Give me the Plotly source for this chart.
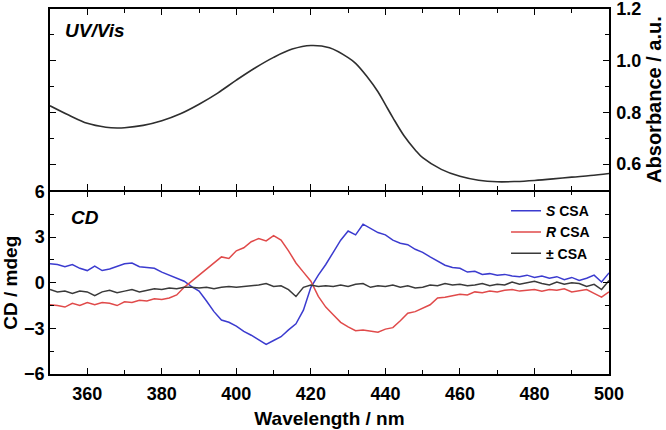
import plotly.graph_objects as go

# ---------------- data ----------------
uv_wl = [350, 355, 360, 365, 368, 370, 375, 380, 385, 390, 395, 400, 405, 410, 415,
         420, 425, 430, 432, 435, 438, 440, 442, 445, 448, 450, 455, 460, 465, 470,
         475, 480, 485, 490, 495, 500]
uv_abs = [0.826, 0.79, 0.758, 0.743, 0.740, 0.741, 0.750, 0.768, 0.795, 0.832, 0.875,
          0.925, 0.972, 1.013, 1.045, 1.059, 1.050, 1.012, 0.99, 0.94, 0.88, 0.83,
          0.78, 0.71, 0.655, 0.625, 0.580, 0.553, 0.538, 0.532, 0.533, 0.537, 0.543,
          0.550, 0.556, 0.564]

cd_wl = list(range(350, 501, 2))

cd_S = [1.25, 1.2, 1.05, 1.2, 0.95, 0.8, 1.1, 0.8, 0.9, 1.05, 1.25, 1.3, 1.05, 1.0,
        0.95, 0.7, 0.5, 0.3, 0.1, -0.25, -0.55, -1.2, -1.9, -2.45, -2.6, -2.85,
        -3.2, -3.45, -3.75, -4.05, -3.8, -3.55, -3.1, -2.7, -1.8, -0.3, 0.5, 1.2,
        2.0, 2.8, 3.4, 3.15, 3.85, 3.6, 3.3, 3.15, 2.8, 2.6, 2.5, 2.2, 2.0, 1.7,
        1.4, 1.15, 1.0, 0.95, 0.7, 0.75, 0.55, 0.6, 0.5, 0.55, 0.45, 0.4, 0.5,
        0.35, 0.45, 0.3, 0.4, 0.2, 0.35, 0.15, 0.3, 0.5, 0.05, 0.65]

cd_R = [-1.45, -1.5, -1.6, -1.35, -1.5, -1.3, -1.45, -1.3, -1.35, -1.5, -1.25,
        -1.3, -1.15, -1.2, -1.05, -1.1, -1.0, -0.8, -0.3, 0.1, 0.5, 0.9, 1.3, 1.7,
        1.6, 2.1, 2.3, 2.7, 2.9, 2.75, 3.1, 2.8, 2.1, 1.3, 0.7, 0.1, -0.9, -1.6,
        -2.1, -2.6, -2.9, -3.15, -3.1, -3.2, -3.25, -3.05, -2.95, -2.5, -2.0, -1.9,
        -1.7, -1.45, -1.0, -0.95, -0.85, -0.75, -0.8, -0.6, -0.65, -0.55, -0.6,
        -0.5, -0.45, -0.55, -0.5, -0.45, -0.55, -0.45, -0.5, -0.4, -0.6, -0.55,
        -0.45, -0.7, -0.95, -0.6]

cd_rac = [-0.45, -0.6, -0.55, -0.7, -0.55, -0.6, -0.85, -0.6, -0.5, -0.65, -0.55,
          -0.45, -0.6, -0.5, -0.4, -0.45, -0.35, -0.4, -0.3, -0.3, -0.35, -0.3,
          -0.4, -0.3, -0.25, -0.3, -0.25, -0.2, -0.15, -0.05, -0.25, -0.2, -0.45,
          -0.9, -0.3, -0.15, -0.25, -0.2, -0.25, -0.15, -0.25, -0.1, -0.05, -0.3,
          -0.2, -0.25, -0.15, -0.3, -0.2, -0.35, -0.3, -0.15, -0.2, -0.05, -0.15,
          -0.1, -0.2, -0.15, -0.05, -0.2, -0.1, -0.15, 0.05, -0.1, 0.0, 0.1, -0.05,
          -0.15, 0.05, -0.1, 0.0, -0.05, -0.25, -0.1, -0.45, 0.15]

series_names = ["<i>S</i> CSA", "<i>R</i> CSA", "\u00b1 CSA"]
series_colors = ["#3b3bcf", "#e04a4a", "#3a3a3a"]

x_ticks = [360, 380, 400, 420, 440, 460, 480, 500]
cd_ticks = [-6, -3, 0, 3, 6]
abs_ticks = [0.6, 0.8, 1.0, 1.2]

FONT = "Liberation Sans, Arial, sans-serif"

fig = go.Figure()

fig.add_trace(go.Scatter(x=uv_wl, y=uv_abs, mode="lines", line=dict(color="#2e2e2e", width=1.6, shape="spline"),
                         xaxis="x2", yaxis="y2", showlegend=False))

for name, ys, col in zip(series_names, [cd_S, cd_R, cd_rac], series_colors):
    fig.add_trace(go.Scatter(x=cd_wl, y=ys, mode="lines", name=name,
                             line=dict(color=col, width=1.5), xaxis="x", yaxis="y"))

tickfont = dict(family=FONT, size=18, color="black", weight="bold")
titlefont = dict(family=FONT, size=19, color="black", weight="bold")

common_x = dict(range=[350, 500], showline=True, linecolor="black", linewidth=1.5,
                ticks="inside", ticklen=6, tickwidth=1.3, tickcolor="black",
                tickvals=x_ticks, mirror="allticks", showgrid=False, zeroline=False,
                automargin=False, ticklabeloverflow="allow",
                minor=dict(dtick=10, tick0=350, ticks="inside", ticklen=4, tickwidth=1.2, tickcolor="black"))

fig.update_layout(
    width=666, height=430,
    margin=dict(l=50, r=57, t=9, b=56),
    plot_bgcolor="white", paper_bgcolor="white",
    font=dict(family=FONT, color="black"),
    xaxis=dict(**common_x, anchor="y", domain=[0, 1], tickfont=tickfont, ticklabelstandoff=3,
               title=dict(text="Wavelength / nm", font=titlefont, standoff=8)),
    xaxis2=dict(**common_x, anchor="y2", domain=[0, 1], matches="x", showticklabels=False),
    yaxis=dict(domain=[0, 0.5], range=[-6, 6], anchor="x", tickvals=cd_ticks,
               showline=True, linecolor="black", linewidth=1.5, ticks="inside", ticklen=6,
               tickwidth=1.3, tickcolor="black", mirror="allticks", showgrid=False, zeroline=False,
               tickfont=tickfont, automargin=False, ticklabeloverflow="allow",
               minor=dict(dtick=1.5, tick0=0, ticks="inside", ticklen=4, tickwidth=1.2, tickcolor="black"),
               title=dict(text="CD / mdeg", font=titlefont, standoff=6)),
    yaxis2=dict(domain=[0.504, 1], range=[0.5, 1.2], anchor="x2", side="right", tickvals=abs_ticks,
                tickformat=".1f", showline=True, linecolor="black", linewidth=1.5, ticks="inside",
                ticklen=6, tickwidth=1.3, tickcolor="black", mirror="allticks", showgrid=False,
                zeroline=False, tickfont=tickfont, automargin=False, ticklabeloverflow="allow",
                ticklabelstandoff=2,
                minor=dict(dtick=0.1, tick0=0, ticks="inside", ticklen=4, tickwidth=1.2, tickcolor="black"),
                title=dict(text="Absorbance / a.u.", font=dict(family=FONT, size=20, color="black", weight="bold"), standoff=7)),
    legend=dict(x=0.975, y=0.49, xanchor="right", yanchor="top", bgcolor="rgba(0,0,0,0)",
                font=dict(family=FONT, size=14, color="black", weight="bold"),
                tracegroupgap=0, itemwidth=30),
    annotations=[
        dict(text="UV/Vis", x=0.024, y=0.94, xref="paper", yref="paper", xanchor="left", yanchor="middle",
             showarrow=False, font=dict(family=FONT, size=19, color="black", weight="bold", style="italic")),
        dict(text="CD", x=0.034, y=0.43, xref="paper", yref="paper", xanchor="left", yanchor="middle",
             showarrow=False, font=dict(family=FONT, size=19, color="black", weight="bold", style="italic")),
    ],
)

fig.write_html("out.html", config={"displayModeBar": False},
               post_script="document.body.style.margin='0';document.body.style.padding='0';")
